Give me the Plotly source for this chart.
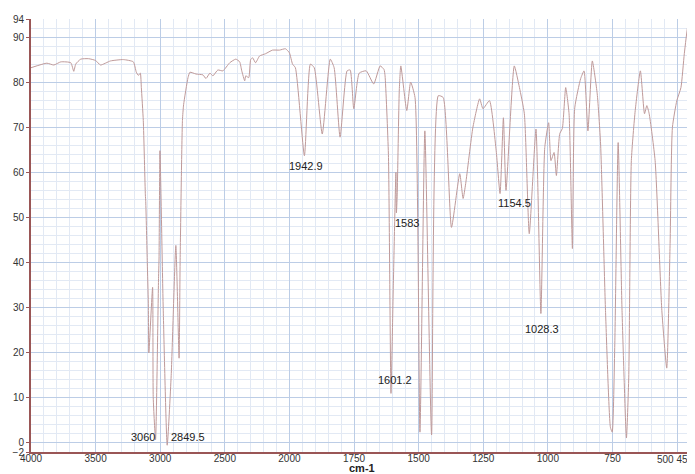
import numpy as np
import plotly.graph_objects as go

# IR spectrum (wavenumber cm-1, %T)
wavenumber = [4000, 3877, 3823, 3769, 3692, 3669, 3654, 3615, 3554, 3500, 3462, 3385, 3285, 3208, 3185, 3169,
              3154, 3146, 3131, 3115, 3112, 3100, 3092, 3088, 3059, 3054, 3036, 3013, 3009, 3002, 2977, 2946,
              2915, 2879, 2854, 2846, 2828, 2819, 2785, 2770, 2723, 2669, 2646, 2615, 2592, 2554, 2515, 2462,
              2415, 2385, 2369, 2346, 2338, 2315, 2300, 2285, 2262, 2231, 2185, 2131, 2077, 2031, 2000,
              1988, 1977, 1942, 1919, 1904, 1873, 1842, 1827, 1804, 1777, 1765, 1751, 1730, 1703, 1674, 1649,
              1634, 1630, 1617, 1607, 1598, 1588, 1586, 1583, 1575, 1569, 1546, 1531, 1514, 1495, 1476, 1450,
              1424, 1405, 1373, 1341, 1328, 1318, 1290, 1264, 1251, 1226, 1200, 1185, 1172, 1162, 1130, 1110,
              1091, 1072, 1046, 1027, 1012, 997, 988, 976, 967, 954, 944, 931, 918, 905, 896, 873, 860, 845,
              828, 809, 796, 777, 758, 751, 741, 728, 713, 696, 687, 677, 662, 642, 626, 617, 608, 585, 559,
              540, 527, 518, 501, 485, 472, 457, 450]
transmittance = [83.2, 84.2, 83.8, 84.5, 84.3, 82.4, 84.0, 85.1, 85.2, 84.8, 83.8, 84.7, 85.0, 84.5, 82.2, 81.5,
                 82.0, 78.8, 71.5, 55.0, 53.5, 40.0, 31.0, 20.0, 34.5, 10.0, 0.7, 36.5, 41.0, 64.8, 30.0, -0.5,
                 15.0, 43.8, 18.8, 40.0, 71.5, 75.0, 81.0, 82.2, 81.8, 81.6, 80.8, 82.0, 81.4, 82.7, 82.5, 84.3,
                 85.1, 84.5, 82.5, 80.3, 81.4, 81.0, 85.0, 85.4, 84.3, 85.8, 86.3, 87.1, 87.1, 87.4, 86.5,
                 84.0, 83.2, 63.7, 84.0, 83.2, 68.5, 85.1, 83.2, 67.8, 82.5, 82.7, 74.1, 82.0, 82.5, 79.6, 83.6,
                 82.8, 81.4, 64.0, 11.0, 35.0, 60.0, 51.0, 55.0, 78.0, 83.6, 73.7, 80.0, 76.6, 2.4, 69.2, 1.8,
                 77.0, 76.6, 47.8, 59.7, 54.2, 57.5, 70.0, 76.3, 74.1, 75.9, 64.8, 55.3, 72.1, 56.0, 83.6, 78.8,
                 73.0, 46.4, 69.6, 28.7, 65.5, 71.0, 62.6, 64.4, 59.3, 68.6, 69.7, 78.8, 73.0, 43.1, 74.3, 80.8, 82.5, 69.2,
                 84.7, 77.4, 66.3, 29.4, 3.5, 2.4, 22.0, 66.6, 29.4, 1.1, 14.6, 62.6, 73.7, 82.5, 73.0, 74.8, 73.0, 62.6, 29.4,
                 16.6, 44.2, 70.0, 75.9, 78.8, 86.3, 92.9, 93.5]

x_tick_values = [4000, 3500, 3000, 2500, 2000, 1750, 1500, 1250, 1000, 750, 500]
x_tick_labels = ["4000", "3500", "3000", "2500", "2000", "1750", "1500", "1250", "1000", "750", ""]
x_end_label = "500 45"
y_tick_values = [94, 90, 80, 70, 60, 50, 40, 30, 20, 10, 0, -2]

peak_labels = ["1942.9", "1583", "1601.2", "1154.5", "1028.3", "3060", "2849.5"]
peak_label_wn = [1935, 1546, 1591, 1130, 1023, 3136, 2784]
peak_label_t = [61.5, 48.7, 13.9, 53.1, 25.2, 1.4, 1.4]

FONT = "Liberation Sans, Arial, sans-serif"


def axis_pos(wn):
    """Instrument scale: 4000-2000 cm-1 compressed by half relative to 2000-450."""
    wn = np.asarray(wn, dtype=float)
    return np.where(wn > 2000, 2000 + (wn - 2000) / 2.0, wn)


fig = go.Figure()
fig.add_trace(go.Scatter(
    x=axis_pos(wavenumber), y=transmittance, mode="lines",
    line=dict(color="#bf9a9a", width=1, shape="spline", smoothing=0.5),
    showlegend=False, hoverinfo="skip"))

annotations = []
for txt, wn, t in zip(peak_labels, peak_label_wn, peak_label_t):
    annotations.append(dict(x=float(axis_pos(wn)), y=t, xref="x", yref="y", text=txt, showarrow=False,
                            font=dict(family=FONT, size=11, color="#222")))
annotations.append(dict(x=0.503, y=-0.038, xref="paper", yref="paper", text="<b>cm-1</b>", showarrow=False,
                        yanchor="middle", font=dict(family=FONT, size=11, color="#222")))
annotations.append(dict(x=1.0, y=-0.017, xref="paper", yref="paper", text=x_end_label, showarrow=False,
                        xanchor="right", yanchor="middle",
                        font=dict(family=FONT, size=10, color="#333")))

# the page body has an 8px margin; size the figure so the plot lands where the reference has it
fig.update_layout(
    width=687, height=466,
    margin=dict(l=19, r=5, t=10, b=22),
    paper_bgcolor="white", plot_bgcolor="white",
    annotations=annotations,
    xaxis=dict(
        range=[float(axis_pos(4000)), 450], tickmode="array",
        tickvals=list(axis_pos(x_tick_values)), ticktext=x_tick_labels, tickangle=0,
        showgrid=True, gridcolor="#bccde6", gridwidth=1,
        minor=dict(dtick=50, tick0=0, showgrid=True, gridcolor="#e2e9f4", gridwidth=1),
        showline=True, linecolor="#9a5656", linewidth=2,
        ticks="", ticklabelstandoff=-4,
        tickfont=dict(family=FONT, size=10, color="#333"),
        zeroline=False),
    yaxis=dict(
        range=[-2, 94], tickmode="array", tickvals=y_tick_values,
        showgrid=True, gridcolor="#bccde6", gridwidth=1,
        minor=dict(dtick=2, tick0=0, showgrid=True, gridcolor="#e2e9f4", gridwidth=1),
        showline=True, linecolor="#9a5656", linewidth=2,
        ticks="outside", ticklen=3, tickcolor="#9a5656",
        tickfont=dict(family=FONT, size=10, color="#333"),
        zeroline=False),
)

fig.write_html("out.html")
